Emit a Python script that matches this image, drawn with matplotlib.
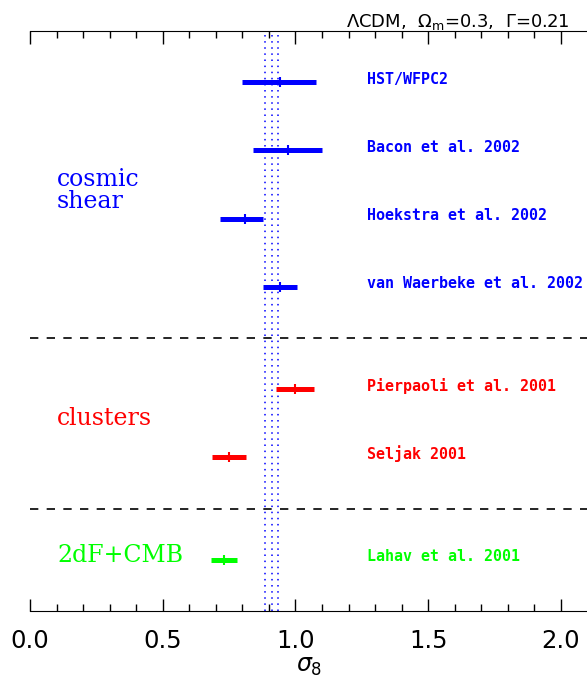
import matplotlib
matplotlib.use("Agg")
import matplotlib.pyplot as plt
from matplotlib.ticker import MultipleLocator

# ---- data ----
names = ["HST/WFPC2", "Bacon et al. 2002", "Hoekstra et al. 2002",
         "van Waerbeke et al. 2002", "Pierpaoli et al. 2001", "Seljak 2001",
         "Lahav et al. 2001"]
centers = [0.94, 0.97, 0.81, 0.94, 1.00, 0.75, 0.73]
err_lo = [0.14, 0.13, 0.094, 0.064, 0.072, 0.063, 0.05]
err_hi = [0.137, 0.13, 0.069, 0.067, 0.068, 0.064, 0.05]
rows = [0, 1, 2, 3, 4.5, 5.5, 7]
colors = ["#0000ff"] * 4 + ["#ff0000"] * 2 + ["#00ff00"]

groups = ["cosmic\nshear", "clusters", "2dF+CMB"]
group_rows = [1.85, 5.03, 7.03]
group_colors = ["#0000ff", "#ff0000", "#00ff00"]

separators = [3.75, 6.25]
ref_lines = [0.885, 0.91, 0.935]
xticks_major = [0.0, 0.5, 1.0, 1.5, 2.0]
xtick_labels = ["0.0", "0.5", "1.0", "1.5", "2.0"]

# ---- figure ----
fig = plt.figure(figsize=(5.87, 6.88), dpi=100)
ax = fig.add_axes([30/587, 77/688, 557.5/587, 580/688])
ax.set_xlim(0, 2.1)
ax.set_ylim(7.75, -0.75)

for x in ref_lines:
    ax.axvline(x, color="#0000ff", lw=1.1, linestyle=(0, (1, 3)), zorder=1)

for y in separators:
    ax.axhline(y, color="black", lw=1.2, linestyle=(0, (5, 5)), zorder=1)

for n, c, lo, hi, r, col in zip(names, centers, err_lo, err_hi, rows, colors):
    ax.plot([c - lo, c + hi], [r, r], color=col, lw=3.6,
            solid_capstyle="butt", zorder=3)
    ax.plot([c], [r], marker="|", markersize=7.5, mew=1.5, color=col,
            linestyle="none", zorder=4)
    ax.text(1.268, r + 0.02, n, color=col, fontsize=10.8,
            family="DejaVu Sans Mono", fontweight="bold",
            ha="left", va="baseline")

for g, r, col in zip(groups, group_rows, group_colors):
    ax.text(0.102, r, g, color=col, fontsize=17, family="DejaVu Serif",
            ha="left", va="baseline", linespacing=0.95)

ax.spines["left"].set_visible(False)
ax.spines["right"].set_visible(False)
ax.set_yticks([])
ax.set_xticks(xticks_major)
ax.set_xticklabels(xtick_labels, fontsize=17.5)
ax.xaxis.set_minor_locator(MultipleLocator(0.1))
ax.tick_params(axis="x", which="major", direction="in", length=9, width=1.0,
               top=True, bottom=True, pad=13)
ax.tick_params(axis="x", which="minor", direction="in", length=5, width=1.0,
               top=True, bottom=True)
ax.set_xlabel(r"$\sigma_{\rm 8}$", fontsize=17, labelpad=1)

fig.text(570/587, (688-27)/688,
         r"$\Lambda$CDM,  $\Omega_{\rm m}$=0.3,  $\Gamma$=0.21",
         ha="right", va="baseline", fontsize=13)

fig.savefig("out.png", dpi=100)
